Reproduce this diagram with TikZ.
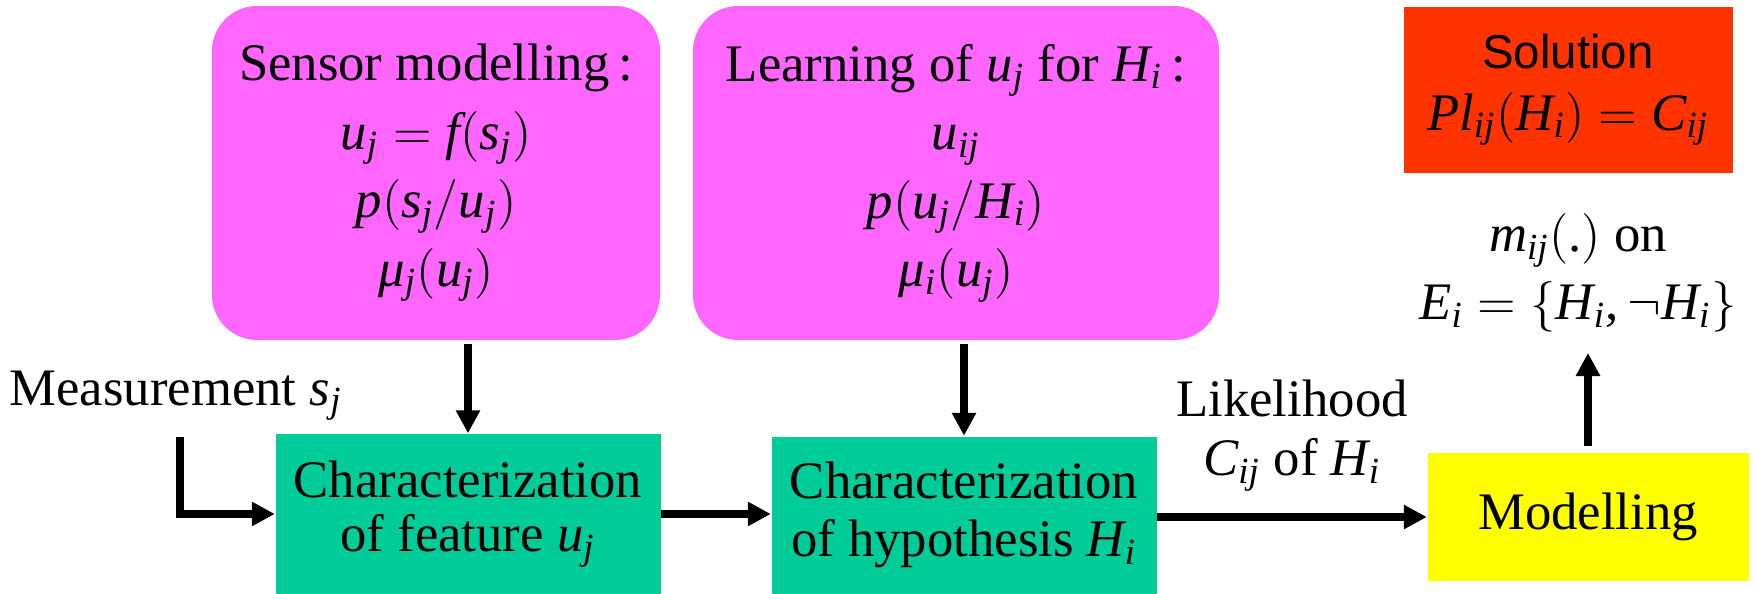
\documentclass[tikz,border=0pt]{standalone}
\usepackage{fontspec}
\setmainfont{LiberationSerif}[Extension=.ttf,UprightFont=*-Regular,
  ItalicFont=*-Italic,BoldFont=*-Bold,BoldItalicFont=*-BoldItalic]
\newfontfamily\solfont{Liberation Sans}
\newfontfamily\mathtms[NFSSFamily=tmsx,Extension=.ttf,UprightFont=*-Regular,
  ItalicFont=*-Italic]{LiberationSerif}
\DeclareSymbolFont{letters}{TU}{tmsx}{m}{it}
\DeclareSymbolFont{operators}{TU}{tmsx}{m}{n}
\Umathchardef\mu="0 "1 "03BC
\mathcode`\/="002F
\mathcode`\.="002E
\mathcode`\,="602C
\usetikzlibrary{arrows.meta,positioning}
\definecolor{BoxPink}{RGB}{255,102,255}
\definecolor{BoxGreen}{RGB}{0,204,153}
\definecolor{BoxRed}{RGB}{255,51,0}
\definecolor{BoxYellow}{RGB}{255,255,0}

\begin{document}
\begin{tikzpicture}[x=0.1mm,y=-0.1mm,
  every node/.style={font=\fontsize{15}{19.5}\selectfont,inner sep=0pt},
  pinkbox/.style={fill=BoxPink,rounded corners=4.5mm,minimum height=33.4mm,align=center},
  greenbox/.style={fill=BoxGreen,minimum width=38.5mm,align=center},
  flow/.style={line width=0.8mm,-{Triangle[length=2.3mm,width=2.3mm]}},
]
\useasboundingbox (0,0) rectangle (1756,594);
\node[pinkbox,minimum width=44.8mm] (sensor) at (436,173)
  {Sensor modelling\,:\\ $u_j=f(s_j)$\\ $p(s_j/u_j)$\\ $\mu_j(u_j)$};
\node[pinkbox,minimum width=52.6mm] (learn) at (956,173)
  {Learning of $u_j$ for $H_i$\,:\\ $u_{ij}$\\ $p(u_j/H_i)$\\ $\mu_i(u_j)$};
\node[fill=BoxRed,minimum width=32.9mm,minimum height=16.6mm,align=center,
  font=\fontsize{15}{17.6}\selectfont] (sol) at (1568,90)
  {{\solfont\fontsize{13.5}{16}\selectfont Solution}\\ $Pl_{ij}(H_i)=C_{ij}$};
\node[greenbox,minimum height=16mm,font=\fontsize{15}{15.6}\selectfont] (feat) at (468,514)
  {Characterization\\ of feature $u_j$};
\node[greenbox,minimum height=15.7mm,font=\fontsize{15}{16.5}\selectfont] (hyp) at (964,515)
  {Characterization\\ of hypothesis $H_i$};
\node[fill=BoxYellow,minimum width=32.1mm,minimum height=12.8mm] (model) at (1588,517) {Modelling};
\node[align=center,anchor=south,font=\fontsize{15}{19.3}\selectfont] (mass) at (1578,333)
  {$m_{ij}(.)$ on\\ $E_i=\bigl\{H_i,\neg H_i\bigr\}$};
\node[anchor=base west] (meas) at (9,405) {Measurement $s_j$};
\coordinate (measin) at (180,437);

\draw[flow] (measin) |- (feat.west);
\draw[flow,shorten <=0.3mm] (feat.north |- sensor.south) -- (feat.north);
\draw[flow,shorten <=0.3mm] (hyp.north |- learn.south) -- (hyp.north);
\draw[flow] (feat.east) -- (feat.east -| hyp.west);
\draw[flow] (model.west -| hyp.east) -- node[above=2.2mm,align=center,font=\fontsize{15}{16.8}\selectfont] (lik)
  {Likelihood\\ $C_{ij}$ of $H_i$} (model.west);
\draw[flow,shorten <=0.6mm,shorten >=2mm] (model.north) -- (model.north |- mass.south);
\end{tikzpicture}
\end{document}
